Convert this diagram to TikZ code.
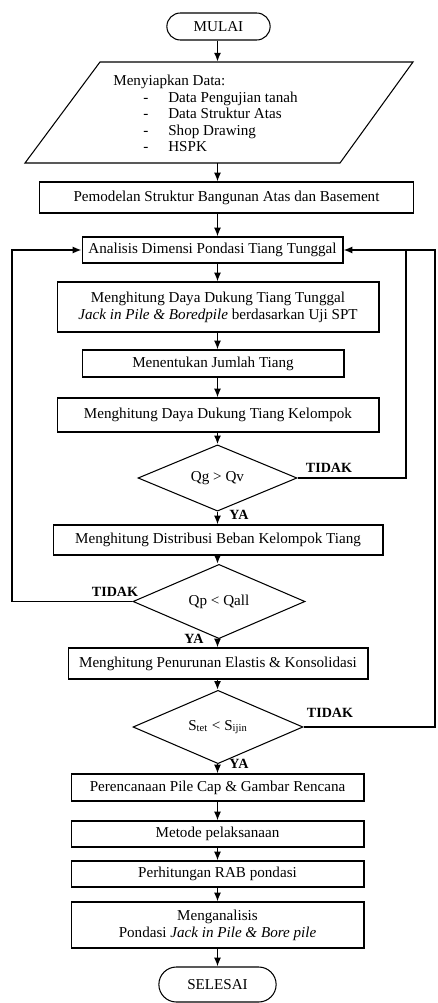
\documentclass[tikz,border=0pt]{standalone}
\usepackage{fontspec}
\setmainfont{Liberation Serif}
\usepackage{tikz}
\usetikzlibrary{shapes.geometric,shapes.misc,arrows.meta}
\newcommand{\teks}{\fontsize{8.6}{9.6}\selectfont}

\begin{document}
\begin{tikzpicture}[x=0.02cm,y=-0.02cm,>={Latex[length=5pt,width=4pt]},
  kotak/.style={draw,line width=0.6pt,align=center,inner sep=1pt,font=\teks},
  terminal/.style={draw,rounded rectangle,line width=0.6pt,font=\teks},
  keputusan/.style={draw,diamond,line width=0.6pt,inner sep=0pt,font=\teks},
  label/.style={font=\fontsize{8}{9}\selectfont\bfseries},
  garis/.style={line width=0.9pt}]
\useasboundingbox (0,0) rectangle (437,1003);

\node[terminal,minimum width=2.3cm,minimum height=0.54cm] (mulai) at (218.5,26.5) {MULAI};
\node[minimum width=7.76cm,minimum height=2.02cm] (data) at (219,112.5) {};
\draw[line width=0.6pt] (100,62) -- (413,62) -- (340,163) -- (25,163) -- cycle;
\node[font=\fontsize{8.6}{9.4}\selectfont,align=left,anchor=west,inner sep=0pt] (isidata) at (113,113.5) {Menyiapkan Data:\\
  \makebox[1.1cm][l]{\hspace{0.6cm}-}Data Pengujian tanah\\
  \makebox[1.1cm][l]{\hspace{0.6cm}-}Data Struktur Atas\\
  \makebox[1.1cm][l]{\hspace{0.6cm}-}Shop Drawing\\
  \makebox[1.1cm][l]{\hspace{0.6cm}-}HSPK};
\node[kotak,minimum width=7.5cm,minimum height=0.62cm] (pemodelan) at (226.5,197.5) {Pemodelan Struktur Bangunan Atas dan Basement};
\node[kotak,minimum width=5.22cm,minimum height=0.52cm] (analisis) at (212.5,250) {Analisis Dimensi Pondasi Tiang Tunggal};
\node[kotak,minimum width=6.44cm,minimum height=1.0cm] (tunggal) at (218,307) {Menghitung Daya Dukung Tiang Tunggal\\ \textit{Jack in Pile \& Boredpile} berdasarkan Uji SPT};
\node[kotak,minimum width=5.24cm,minimum height=0.54cm] (jumlah) at (213,363.5) {Menentukan Jumlah Tiang};
\node[kotak,minimum width=6.44cm,minimum height=0.68cm] (kelompok) at (218,415) {Menghitung Daya Dukung Tiang Kelompok};
\node[keputusan,minimum width=3.18cm,minimum height=1.12cm] (cekqg) at (217.5,478) {Qg > Qv};
\node[kotak,minimum width=6.6cm,minimum height=0.6cm] (distribusi) at (218,540) {Menghitung Distribusi Beban Kelompok Tiang};
\node[keputusan,minimum width=3.44cm,minimum height=1.18cm] (cekqp) at (219,601.5) {Qp < Qall};
\node[kotak,minimum width=6.0cm,minimum height=0.62cm] (penurunan) at (218,663.5) {Menghitung Penurunan Elastis \& Konsolidasi};
\node[keputusan,minimum width=3.4cm,minimum height=1.16cm] (ceks) at (218,727) {S\textsubscript{tet} < S\textsubscript{ijin}};
\node[kotak,minimum width=5.86cm,minimum height=0.54cm] (perencanaan) at (217.5,787.5) {Perencanaan Pile Cap \& Gambar Rencana};
\node[kotak,minimum width=5.86cm,minimum height=0.52cm] (metode) at (217.5,834) {Metode pelaksanaan};
\node[kotak,minimum width=5.86cm,minimum height=0.52cm] (rab) at (217.5,874) {Perhitungan RAB pondasi};
\node[kotak,minimum width=5.86cm,minimum height=0.92cm] (menganalisis) at (217.5,925) {Menganalisis\\ Pondasi \textit{Jack in Pile \& Bore pile}};
\node[terminal,minimum width=2.58cm,minimum height=0.7cm] (selesai) at (217.5,984.5) {SELESAI};

\node[label] (tidak1) at (329,468) {TIDAK};
\node[label] (ya1) at (239,515) {YA};
\node[label] (tidak2) at (115,592) {TIDAK};
\node[label] (ya2) at (194,639) {YA};
\node[label] (tidak3) at (330,713) {TIDAK};
\node[label] (ya3) at (239,764) {YA};

\coordinate (kiri) at (12,400);
\coordinate (kanan1) at (406,250);
\coordinate (kanan2) at (435,727);

\draw[garis,->] (mulai.south -| cekqg) -- (data.north -| cekqg);
\draw[garis,->] (data.south -| cekqg) -- (pemodelan.north -| cekqg);
\draw[garis,->] (pemodelan.south -| cekqg) -- (analisis.north -| cekqg);
\draw[garis,->] (analisis.south -| cekqg) -- (tunggal.north -| cekqg);
\draw[garis,->] (tunggal.south -| cekqg) -- (jumlah.north -| cekqg);
\draw[garis,->] (jumlah.south -| cekqg) -- (kelompok.north -| cekqg);
\draw[garis,->] (kelompok.south -| cekqg) -- (cekqg.north);
\draw[garis,->] (cekqg.south) -- (distribusi.north -| cekqg);
\draw[garis,->] (distribusi.south -| cekqg) -- (cekqp.north -| cekqg);
\draw[garis,->] (cekqp.south -| cekqg) -- (penurunan.north -| cekqg);
\draw[garis,->] (penurunan.south -| cekqg) -- (ceks.north -| cekqg);
\draw[garis,->] (ceks.south -| cekqg) -- (perencanaan.north -| cekqg);
\draw[garis,->] (perencanaan.south -| cekqg) -- (metode.north -| cekqg);
\draw[garis,->] (metode.south -| cekqg) -- (rab.north -| cekqg);
\draw[garis,->] (rab.south -| cekqg) -- (menganalisis.north -| cekqg);
\draw[garis,->] (menganalisis.south -| cekqg) -- (selesai.north -| cekqg);

\draw[garis] (cekqg.east) -| (kanan1);
\draw[garis,->] (ceks.east) -- (kanan2) |- (analisis.east);
\draw[garis,->] (cekqp.west) -| (kiri) |- (analisis.west);

\end{tikzpicture}
\end{document}
